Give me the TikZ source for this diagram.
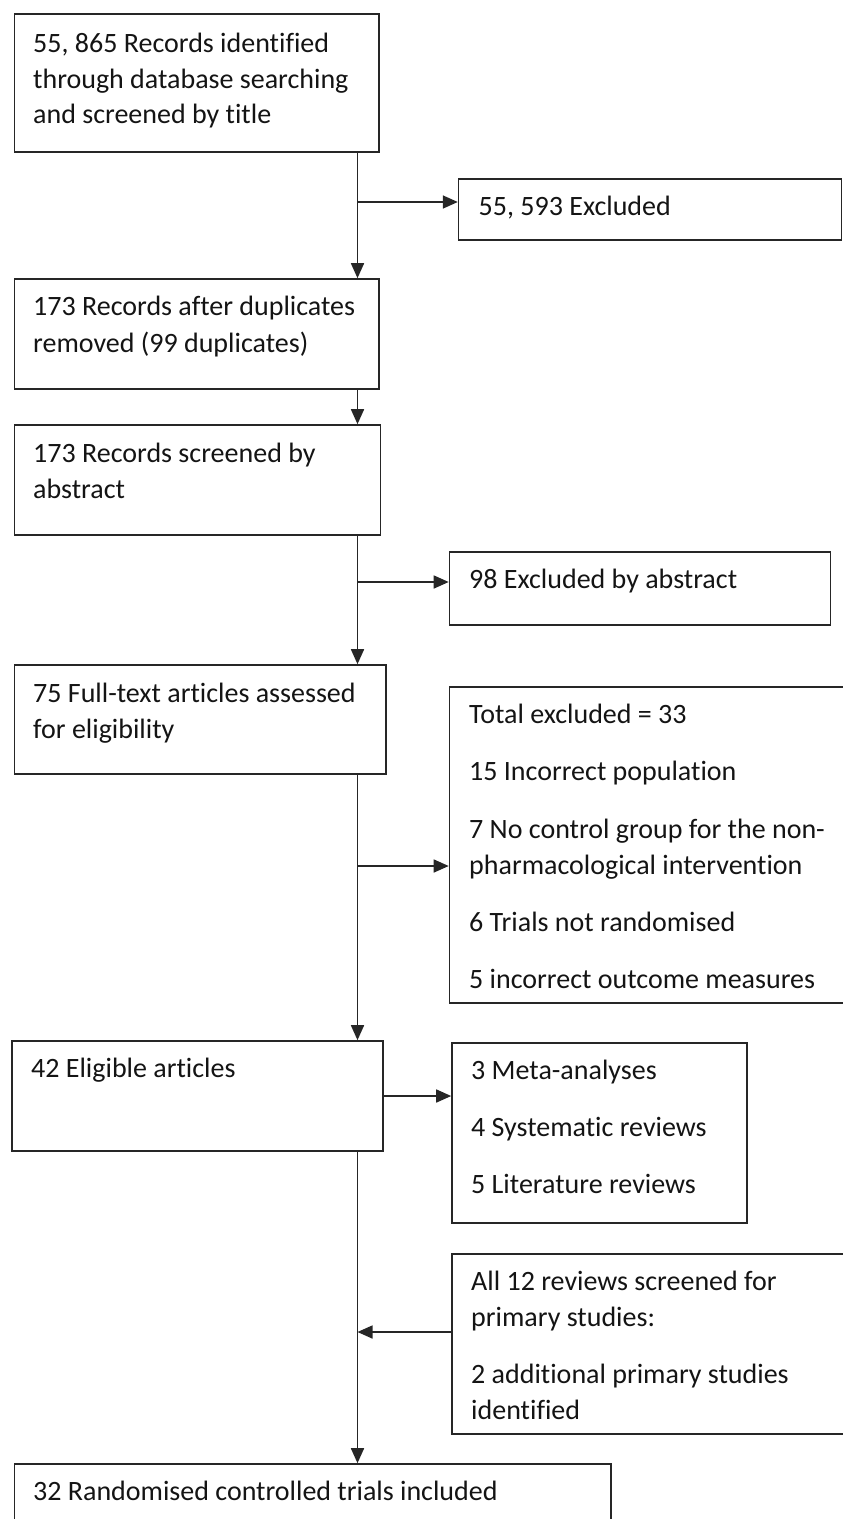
\documentclass[tikz,border=0pt]{standalone}
\usepackage{fontspec}
\setmainfont{Carlito}[Ligatures=NoCommon]
\usetikzlibrary{arrows.meta,fit}
\definecolor{lc}{HTML}{262626}
\definecolor{tc}{HTML}{141414}
\begin{document}
\begin{tikzpicture}[x=1pt,y=-1pt,
  box/.style={draw=lc, line width=1.6pt, fill=white, inner sep=0pt},
  t/.style={anchor=base west, inner sep=0pt, font=\fontsize{28}{34}\selectfont, text=tc},
  arr/.style={draw=lc, line width=1.6pt, -{Triangle[length=15pt,width=13pt]}}]
\useasboundingbox (0,0) rectangle (843,1519);
\clip (0,0) rectangle (843,1519);
% boxes
\node[box, fit={(14.5,14) (379,152)}] (b1) {};
\node[box, fit={(458.6,179) (841.4,240)}] (e1) {};
\node[box, fit={(14.5,279) (379,389)}] (b2) {};
\node[box, fit={(14.5,425) (380.6,535)}] (b3) {};
\node[box, fit={(449.5,552) (830.6,625)}] (e2) {};
\node[box, fit={(14.5,665) (386,774)}] (b4) {};
\node[box, fit={(449.5,687) (860,1003)}] (e3) {};
\node[box, fit={(11.8,1041) (383,1151)}] (b5) {};
\node[box, fit={(452,1043) (746.8,1223)}] (e4) {};
\node[box, fit={(452,1254) (860,1434)}] (e5) {};
\node[box, fit={(14.5,1464) (611,1540)}] (b6) {};
% texts
\node[t] (t1a) at (33,52) {55, 865 Records identified};
\node[t] (t1b) at (33,88) {through database searching};
\node[t] (t1c) at (33,123) {and screened by title};
\node[t] (te1) at (478.5,215) {55, 593 Excluded};
\node[t] (t2a) at (33,315) {173 Records after duplicates};
\node[t] (t2b) at (33,352) {removed (99 duplicates)};
\node[t] (t3a) at (33,462) {173 Records screened by};
\node[t] (t3b) at (33,498) {abstract};
\node[t] (te2) at (469,588) {98 Excluded by abstract};
\node[t] (t4a) at (33,702) {75 Full-text articles assessed};
\node[t] (t4b) at (33,738) {for eligibility};
\node[t] (te3a) at (469,723) {Total excluded = 33};
\node[t] (te3b) at (469,780) {15 Incorrect population};
\node[t] (te3c) at (469,838) {7 No control group for the non-};
\node[t] (te3d) at (469,874) {pharmacological intervention};
\node[t] (te3e) at (469,931) {6 Trials not randomised};
\node[t] (te3f) at (469,988) {5 incorrect outcome measures};
\node[t] (t5) at (31,1077) {42 Eligible articles};
\node[t] (te4a) at (471,1079) {3 Meta-analyses};
\node[t] (te4b) at (471,1136) {4 Systematic reviews};
\node[t] (te4c) at (471,1193) {5 Literature reviews};
\node[t] (te5a) at (471,1290) {All 12 reviews screened for};
\node[t] (te5b) at (471,1326) {primary studies:};
\node[t] (te5c) at (471,1383) {2 additional primary studies};
\node[t] (te5d) at (471,1419) {identified};
\node[t] (t6) at (33,1500) {32 Randomised controlled trials included};
% connectors
\coordinate (sp) at (357.5,0);
\coordinate (y1) at (0,202);
\coordinate (y2) at (0,582);
\coordinate (y3) at (0,866);
\coordinate (y4) at (0,1096);
\coordinate (y5) at (0,1332);
\draw[arr] (b1.south -| sp) -- (b2.north -| sp);
\draw[arr] (sp |- y1) -- (e1.west |- y1);
\draw[arr] (b2.south -| sp) -- (b3.north -| sp);
\draw[arr] (b3.south -| sp) -- (b4.north -| sp);
\draw[arr] (sp |- y2) -- (e2.west |- y2);
\draw[arr] (b4.south -| sp) -- (b5.north -| sp);
\draw[arr] (sp |- y3) -- (e3.west |- y3);
\draw[arr] (b5.east |- y4) -- (e4.west |- y4);
\draw[arr] (b5.south -| sp) -- (b6.north -| sp);
\draw[arr] (e5.west |- y5) -- (sp |- y5);
\end{tikzpicture}
\end{document}
